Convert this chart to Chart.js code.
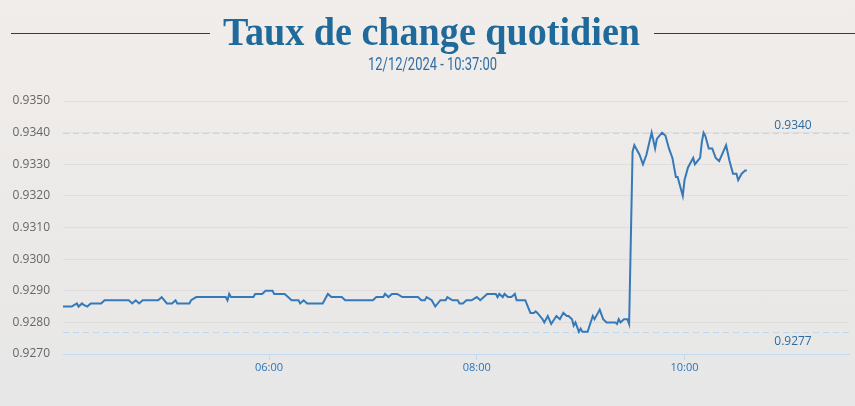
<!DOCTYPE html>
<html>
  <head>
    <meta charset="utf-8">
    <title>Taux de change quotidien</title>
    <script src="https://cdn.jsdelivr.net/npm/chart.js@4.4.1/dist/chart.umd.min.js"></script>
    <style>
      body {
        margin: 0;
        width: 855px;
        height: 406px;
        overflow: hidden;
        background: linear-gradient(#f1edea, #e7e7e7);
        position: relative;
      }
      #chart { position: absolute; left: 0; top: 0; }
      .rule { position: absolute; top: 33px; height: 1px; background: #3b3b3b; }
      #title {
        position: absolute; left: 4px; top: 11px; width: 855px;
        text-align: center;
        font: bold 41px "Liberation Serif", serif;
        line-height: 41px;
        color: #1f6a9a;
        transform: scaleX(0.93);
      }
      #stamp {
        position: absolute; left: 5px; top: 55px; width: 855px;
        text-align: center;
        font: 400 18px Roboto, sans-serif;
        line-height: 18px;
        color: #2f6ea5;
        transform: scaleX(0.72);
      }
    </style>
  </head>
  <body>
    <canvas id="chart" width="855" height="406"></canvas>
    <div class="rule" style="left:11px;width:199px"></div>
    <div class="rule" style="left:654px;width:201px"></div>
    <div id="title">Taux de change quotidien</div>
    <div id="stamp">12/12/2024 - 10:37:00</div>

    <script type="text/javascript">
      // quotes of the day (vertices of the line)
      var times = [
        "04:01","04:06","04:09","04:10","04:12","04:13","04:15","04:17","04:23","04:25","04:39","04:41",
        "04:43","04:45","04:47","04:56","04:58","05:01","05:04","05:06","05:07","05:14","05:15","05:18",
        "05:35","05:36","05:37","05:38","05:51","05:52","05:56","05:58","06:02","06:03","06:09","06:11",
        "06:13","06:17","06:18","06:20","06:22","06:31","06:34","06:36",
        "06:42","06:44","07:00","07:02","07:06","07:07","07:09","07:11","07:14","07:17","07:26","07:28",
        "07:30","07:31","07:34","07:36","07:39","07:42","07:43","07:46","07:49","07:50","07:52","07:54",
        "07:57","08:00","08:02","08:06","08:11","08:12","08:13","08:15","08:16","08:18","08:20","08:22",
        "08:23","08:28","08:31","08:33","08:34","08:35","08:38","08:39","08:41",
        "08:43","08:46","08:48","08:50","08:52","08:53","08:55","08:56","08:57","08:59","09:00","09:01",
        "09:04","09:07","09:08","09:10","09:11","09:13","09:15","09:17","09:20","09:21","09:22","09:23",
        "09:25","09:27","09:28",
        "09:30","09:31","09:33","09:34","09:36","09:38","09:41","09:43","09:44","09:47","09:49","09:51",
        "09:53","09:55","09:56","09:59","10:00","10:02","10:05","10:06","10:09","10:10","10:11","10:12",
        "10:14","10:16","10:18","10:20","10:24","10:26","10:28","10:30","10:31","10:33","10:35","10:36"
      ];
      var rates = [
        0.9285,0.9285,0.9286,0.9285,0.9286,0.92855,0.9285,0.9286,0.9286,0.9287,0.9287,0.9286,
        0.9287,0.9286,0.9287,0.9287,0.9288,0.9286,0.9286,0.9287,0.9286,0.9286,0.9287,0.9288,
        0.9288,0.9287,0.9289,0.9288,0.9288,0.9289,0.9289,0.9290,0.9290,0.9289,0.9289,0.9288,
        0.9287,0.9287,0.9286,0.9287,0.9286,0.9286,0.9289,0.9288,
        0.9288,0.9287,0.9287,0.9288,0.9288,0.9289,0.9288,0.9289,0.9289,0.9288,0.9288,0.9287,
        0.9287,0.9288,0.9287,0.9285,0.9287,0.9287,0.9288,0.9287,0.9287,0.9286,0.9286,0.9287,
        0.9287,0.9288,0.9287,0.9289,0.9289,0.9288,0.9289,0.9288,0.9289,0.9288,0.9288,0.9289,
        0.9287,0.9287,0.9283,0.9283,0.92835,0.9283,0.9281,0.9280,0.9282,
        0.92795,0.9282,0.9281,0.9283,0.9282,0.9282,0.9281,0.9279,0.9280,0.9277,0.9278,0.9277,
        0.9277,0.9282,0.9281,0.9283,0.9284,0.9281,0.9280,0.9280,0.9280,0.92795,0.9281,0.9280,
        0.9281,0.9281,0.92795,
        0.9334,0.9336,0.9334,0.9333,0.9330,0.9333,0.9340,0.9335,0.9338,0.9340,0.9339,0.9335,
        0.9332,0.9326,0.9326,0.9320,0.9325,0.9329,0.9332,0.9330,0.9332,0.9337,0.9340,0.9339,
        0.9335,0.9335,0.9332,0.9331,0.9336,0.9331,0.9327,0.9327,0.9325,0.9327,0.9328,0.9328
      ];
      var xTickTimes = ["06:00", "08:00", "10:00"];
      var yMin = 0.9270, yMax = 0.9350, yStep = 0.0010;
      var refHigh = 0.9340, refLow = 0.9277;

      function toMin(t) {
        var p = t.split(':');
        return parseInt(p[0], 10) * 60 + parseInt(p[1], 10);
      }
      function fmtMin(m) {
        var h = Math.floor(m / 60), mm = Math.round(m % 60);
        return (h < 10 ? '0' : '') + h + ':' + (mm < 10 ? '0' : '') + mm;
      }

      var points = [];
      for (var i = 0; i < times.length; i++) {
        points.push({ x: toMin(times[i]), y: rates[i] });
      }

      // dashed high / low lines with their labels
      var refLines = {
        id: 'refLines',
        beforeDatasetsDraw: function(chart) {
          var ctx = chart.ctx, a = chart.chartArea, y = chart.scales.y;
          ctx.save();
          ctx.strokeStyle = '#bed7f1';
          ctx.lineWidth = 1;
          ctx.setLineDash([6, 4]);
          [refHigh, refLow].forEach(function(v) {
            var py = Math.round(y.getPixelForValue(v)) + 0.5;
            ctx.beginPath();
            ctx.moveTo(a.left, py);
            ctx.lineTo(a.right, py);
            ctx.stroke();
          });
          ctx.restore();
        },
        afterDraw: function(chart) {
          var ctx = chart.ctx, y = chart.scales.y;
          ctx.save();
          ctx.font = '12px "Open Sans", sans-serif';
          ctx.fillStyle = '#2c6c9f';
          ctx.textAlign = 'center';
          ctx.textBaseline = 'middle';
          ctx.fillText(refHigh.toFixed(4), 793, y.getPixelForValue(refHigh) - 7);
          ctx.fillText(refLow.toFixed(4), 793, y.getPixelForValue(refLow) + 10);
          ctx.restore();
        }
      };

      var ctx = document.getElementById('chart').getContext('2d');
      var chart = new Chart(ctx, {
        type: 'line',
        data: {
          datasets: [{
            data: points,
            borderColor: '#3579b9',
            borderWidth: 2,
            pointRadius: 0,
            tension: 0,
            fill: false
          }]
        },
        options: {
          responsive: false,
          animation: false,
          layout: { padding: { top: 101, right: 6, left: 0, bottom: 0 } },
          plugins: {
            legend: { display: false },
            tooltip: { enabled: false }
          },
          scales: {
            x: {
              type: 'linear',
              min: 241,
              max: 695,
              afterBuildTicks: function(s) {
                s.ticks = xTickTimes.map(function(t) { return { value: toMin(t) }; });
              },
              afterFit: function(s) { s.height = 52; },
              ticks: {
                autoSkip: false,
                maxRotation: 0,
                padding: 1,
                color: '#2a74bb',
                font: { family: '"Open Sans", sans-serif', size: 11 },
                callback: function(v) { return fmtMin(v); }
              },
              grid: { drawOnChartArea: false, tickLength: 6, color: '#c5daf0' },
              border: { color: '#c5daf0' }
            },
            y: {
              min: yMin,
              max: yMax,
              afterFit: function(s) { s.width = 63; },
              ticks: {
                stepSize: yStep,
                padding: 13,
                color: '#666',
                font: { family: '"Open Sans", sans-serif', size: 12 },
                callback: function(v) { return v.toFixed(4); }
              },
              grid: { drawTicks: false, color: 'rgba(0,0,0,0.05)' },
              border: { display: false }
            }
          }
        },
        plugins: [refLines]
      });
    </script>
  </body>
</html>
